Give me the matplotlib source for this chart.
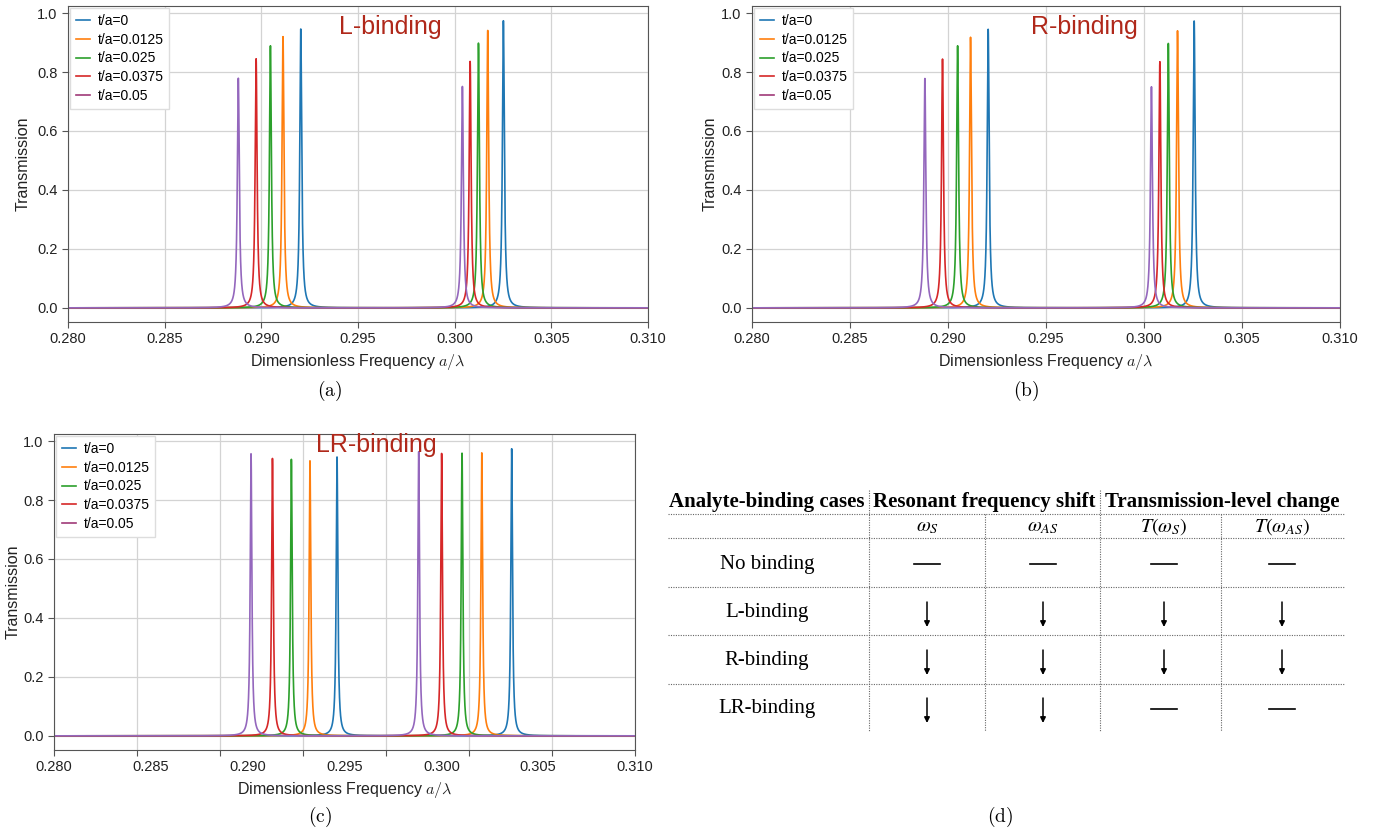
import numpy as np
import matplotlib.pyplot as plt

plt.rcParams['font.family'] = ['Liberation Sans', 'DejaVu Sans']

W, H = 1373, 832

labels = ['t/a=0', 't/a=0.0125', 't/a=0.025', 't/a=0.0375', 't/a=0.05']
colors = ['#1f77b4', '#ff7f0e', '#2ca02c', '#d62728', '#9467bd']
legend_last = '#a03a78'

# resonance centres (a/lambda) and peak transmission, [peak S, peak AS] per t/a
L_center = [[0.29204, 0.30252], [0.29112, 0.30171], [0.29047, 0.30123],
            [0.28973, 0.30080], [0.28881, 0.30040]]
L_height = [[0.946, 0.974], [0.920, 0.941], [0.889, 0.898],
            [0.845, 0.836], [0.779, 0.751]]
R_center = [[0.29205, 0.30256], [0.29115, 0.30171], [0.29049, 0.30124],
            [0.28972, 0.30081], [0.28882, 0.30038]]
R_height = [[0.945, 0.973], [0.918, 0.940], [0.889, 0.897],
            [0.844, 0.835], [0.778, 0.750]]
LR_center = [[0.29205, 0.30257], [0.29042, 0.30077], [0.28930, 0.29958],
             [0.28816, 0.29835], [0.28687, 0.29697]]
LR_height = [[0.946, 0.974], [0.933, 0.960], [0.938, 0.959],
             [0.941, 0.958], [0.957, 0.964]]
half_width = 0.00006

cases = ['No binding', 'L-binding', 'R-binding', 'LR-binding']
sub_heads = [r'$\omega_S$', r'$\omega_{AS}$', r'$T(\omega_S)$', r'$T(\omega_{AS})$']
changes = [['-', '-', '-', '-'],
           ['down', 'down', 'down', 'down'],
           ['down', 'down', 'down', 'down'],
           ['down', 'down', '-', '-']]

fig = plt.figure(figsize=(W / 100, H / 100), dpi=100)


def spectrum(x, centers, heights):
    y = np.zeros_like(x)
    for c, h in zip(centers, heights):
        y += h * half_width**2 / ((x - c)**2 + half_width**2)
    return y


def panel(rect, centers, heights, title, xmin, ylab_x, title_pos):
    ax = fig.add_axes(rect)
    x = np.linspace(xmin, 0.31, 40001)
    for i in range(len(labels)):
        ax.plot(x, spectrum(x, centers[i], heights[i]), color=colors[i],
                lw=1.2, label=labels[i])
    ax.set_xlim(xmin, 0.31)
    ax.set_ylim(-0.048, 1.024)
    ax.set_yticks([0.0, 0.2, 0.4, 0.6, 0.8, 1.0])
    ax.set_xticks(np.arange(xmin, 0.3101, 0.005))
    ax.xaxis.set_major_formatter('{x:.3f}')
    ax.grid(True, color='#d3d3d3', lw=0.9)
    ax.set_axisbelow(True)
    for s in ax.spines.values():
        s.set_color('#555555')
    ax.tick_params(direction='out', length=4, color='#555555',
                   labelsize=10.5, labelcolor='#222222')
    ax.set_ylabel('Transmission', fontsize=11.5, color='#222222')
    ax.yaxis.set_label_coords(ylab_x, 0.5)
    leg = ax.legend(loc='upper left', fontsize=10, frameon=True, fancybox=False,
                    borderaxespad=0.15, borderpad=0.4, handlelength=1.0,
                    handletextpad=0.6, labelspacing=0.35, edgecolor='#dddddd',
                    framealpha=1)
    leg.get_lines()[-1].set_color(legend_last)
    ax.text(title_pos[0], title_pos[1], title, transform=ax.transAxes,
            ha='center', va='center', fontsize=18, color='#b0281a')
    return ax


xl = 'Dimensionless Frequency $a/\\lambda$'

ax_a = panel([68 / W, 1 - 322 / H, 580 / W, 316 / H], L_center, L_height,
             'L-binding', 0.28, -0.064, (0.555, 0.934))
ax_a.set_xlabel(xl, fontsize=11.5, color='#222222', math_fontfamily='cm')

ax_b = panel([752 / W, 1 - 322 / H, 588 / W, 316 / H], R_center, R_height,
             'R-binding', 0.28, -0.058, (0.566, 0.934))
ax_b.set_xlabel(xl, fontsize=11.5, color='#222222', math_fontfamily='cm')

ax_c = panel([54 / W, 1 - 750 / H, 581 / W, 316 / H], LR_center, LR_height,
             'LR-binding', 0.275, -0.057, (0.554, 0.965))
ax_c.tick_params(axis='x', labelbottom=False)
# tick labels of panel (c) are spread evenly as in the source figure
sec = ax_c.secondary_xaxis('bottom', functions=(lambda v: 0.28 + (v - 0.275) * 6 / 7,
                                                lambda v: 0.275 + (v - 0.28) * 7 / 6))
sec.set_xticks([0.280, 0.285, 0.290, 0.295, 0.300, 0.305, 0.310])
sec.xaxis.set_major_formatter('{x:.3f}')
sec.tick_params(length=0, pad=7.5, labelsize=10.5, labelcolor='#222222')
sec.spines['bottom'].set_visible(False)
sec.set_xlabel(xl, fontsize=11.5, color='#222222', math_fontfamily='cm')

# overlay in pixel units for captions and the table
tab = fig.add_axes([0, 0, 1, 1])
tab.set_xlim(0, W)
tab.set_ylim(H, 0)
tab.axis('off')

for cap, cx, cy in [('(a)', 330, 391), ('(b)', 1026, 391), ('(c)', 320, 817), ('(d)', 1000, 817)]:
    tab.text(cx, cy, r'$\mathrm{' + cap + '}$', ha='center', va='center',
             fontsize=14, math_fontfamily='cm')

serif = 'Liberation Serif'
dot = dict(color='#666666', lw=0.8, ls=(0, (1, 1.2)))
left, right = 668, 1345
tab.plot([left, right], [514, 514], **dot)
tab.plot([left, right], [538, 538], **dot)
for y in [587, 635, 684]:
    tab.plot([left, right], [y, y], **dot)
tab.plot([869, 869], [490, 731], **dot)
tab.plot([1100, 1100], [490, 731], **dot)
tab.plot([985, 985], [514, 731], **dot)
tab.plot([1221, 1221], [514, 731], **dot)

for txt, cx in [('Analyte-binding cases', 767), ('Resonant frequency shift', 984),
                ('Transmission-level change', 1222)]:
    tab.text(cx, 502, txt, ha='center', va='center', fontsize=15,
             fontweight='bold', family=serif)

col_x = [927, 1043, 1164, 1282]
row_y = [564, 613, 661, 709]
for j, s in enumerate(sub_heads):
    tab.text(col_x[j], 527, s, ha='center', va='center', fontsize=14.5,
             family=serif, math_fontfamily='stix')

for i, case in enumerate(cases):
    tab.text(767, row_y[i], case, ha='center', va='center', fontsize=15,
             family=serif)
    for j, ch in enumerate(changes[i]):
        if ch == 'down':
            tab.annotate('', xy=(col_x[j], row_y[i] + 14), xytext=(col_x[j], row_y[i] - 11),
                         arrowprops=dict(arrowstyle='-|>', color='k', lw=1.1,
                                         mutation_scale=8, shrinkA=0, shrinkB=0))
        else:
            tab.plot([col_x[j] - 13, col_x[j] + 13], [row_y[i], row_y[i]],
                     color='k', lw=1.2)

fig.savefig('out.png', dpi=100)
